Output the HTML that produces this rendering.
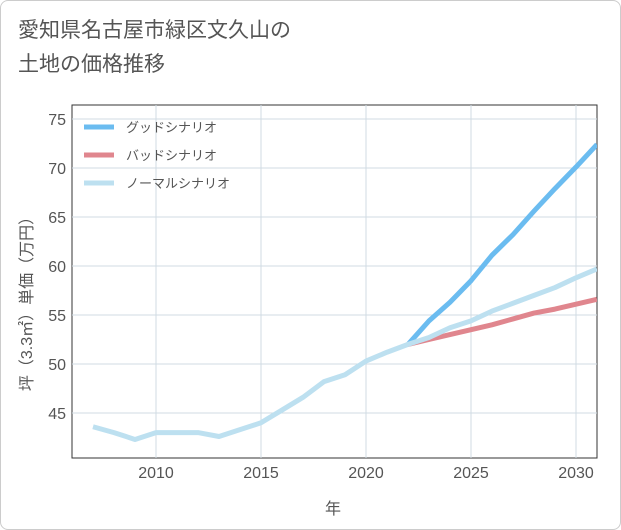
<!DOCTYPE html>
<html><head><meta charset="utf-8"><style>
body{margin:0;background:#fff;}
#wrap{position:relative;width:621px;height:530px;font-family:"Liberation Sans","Noto Sans CJK JP",sans-serif;}
#frame{position:absolute;left:0;top:0;width:619px;height:528px;border:1px solid #ccc;border-radius:8px;}
#title{position:absolute;left:18px;top:14px;font-size:21px;line-height:34px;color:#555;}
svg{position:absolute;left:0;top:0;}
</style></head><body>
<div id="wrap">
<div id="frame"></div>
<div id="title">愛知県名古屋市緑区文久山の<br>土地の価格推移</div>
<svg id="chart" width="621" height="530"></svg>
</div>
<script>
const years=[2007,2008,2009,2010,2011,2012,2013,2014,2015,2016,2017,2018,2019,2020,2021,2022,2023,2024,2025,2026,2027,2028,2029,2030,2031];
const normalValues=[43.6,43,42.3,43,43,43,42.6,43.3,44,45.3,46.6,48.2,48.9,50.3,51.2,52,52.7,53.7,54.4,55.4,56.2,57,57.8,58.8,59.7];
const goodYears=[2022,2023,2024,2025,2026,2027,2028,2029,2030,2031];
const goodValues=[52,54.4,56.3,58.5,61.1,63.2,65.6,67.9,70.1,72.4];
const badValues=[52,52.5,53,53.5,54,54.6,55.2,55.6,56.1,56.6];
const xTicks=[2010,2015,2020,2025,2030];
const yTicks=[45,50,55,60,65,70,75];
const legendLabels=["グッドシナリオ","バッドシナリオ","ノーマルシナリオ"];
const legendColors=["#6bbcf0","#e0868e","#bde0f0"];

const L=72,R=597,T=105,B=458;
const x=v=>156+(v-2010)*21;
const y=v=>364-(v-50)*9.8;
const svg=document.getElementById('chart');
const NS='http://www.w3.org/2000/svg';
function mk(t,a){const e=document.createElementNS(NS,t);for(const k in a)e.setAttribute(k,a[k]);svg.appendChild(e);return e;}
let e;
e=mk('rect',{x:L,y:T,width:R-L,height:B-T,fill:'none',stroke:'#333','stroke-width':1});


xTicks.forEach(t=>{
 e=mk('line',{x1:x(t),x2:x(t),y1:T,y2:B,stroke:'#d0dbe3'});
 
 
 e=mk('text',{x:x(t),y:478,'text-anchor':'middle','font-size':16,fill:'#555'});e.textContent=t;
 
 
});
yTicks.forEach(t=>{
 e=mk('line',{x1:L,x2:R,y1:y(t),y2:y(t),stroke:'#d0dbe3'});
 
 
 e=mk('text',{x:66,y:y(t)+6,'text-anchor':'end','font-size':16,fill:'#555'});e.textContent=t;
 
 
});
e=mk('text',{x:333,y:514,'text-anchor':'middle','font-size':16,fill:'#555'});e.textContent='年';


e=mk('text',{x:0,y:0,'text-anchor':'middle','font-size':16,fill:'#555',transform:'translate(32,300) rotate(-90)'});e.textContent='坪（3.3㎡）単価（万円）';


const cp=mk('clipPath',{id:'cp'});const cr=document.createElementNS(NS,'rect');
cr.setAttribute('x',L);cr.setAttribute('y',T);cr.setAttribute('width',R-L);cr.setAttribute('height',B-T);cp.appendChild(cr);
function line(xs,vs,c,name){
 const d=xs.map((v,i)=>(i?'L':'M')+x(v)+','+y(vs[i])).join(' ');
 const p=mk('path',{d:d,fill:'none',stroke:c,'stroke-width':5,'stroke-linejoin':'round','clip-path':'url(#cp)'});
 
 
}
line(goodYears,goodValues,legendColors[0],'good-scenario-line');
line(goodYears,badValues,legendColors[1],'bad-scenario-line');
line(years,normalValues,legendColors[2],'normal-scenario-line');
legendLabels.forEach((lb,i)=>{
 const ly=127+i*28;
 e=mk('line',{x1:84,x2:114,y1:ly,y2:ly,stroke:legendColors[i],'stroke-width':5});
 
 
 e=mk('text',{x:126,y:ly+5,'font-size':13,fill:'#555'});e.textContent=lb;
 
 
});
</script>
</body></html>
